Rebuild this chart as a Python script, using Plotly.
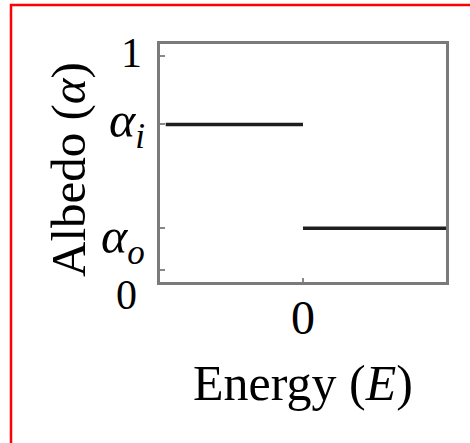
import plotly.graph_objects as go

# Data
seg_inner_x = [-0.96, 0.0]
seg_outer_x = [0.0, 1.0]
alpha_i = 0.68
alpha_o = 0.195
y_tick_vals = [1, alpha_i, alpha_o, 0]
y_tick_text = ["1", "<i>α</i><sub><i>i</i></sub>", "<i>α</i><sub><i>o</i></sub>", "0"]
y_tick_size = [42, 50, 50, 42]
y_tick_shift = [3, 0, -12, -25]
y_tick_right = [144, 147, 147, 139]
x_tick_vals = [0]
x_tick_text = ["0"]

FONT = "Liberation Serif"
W, H = 470, 443
L, R, T, B = 160, 24, 44, 161
pw, ph = W - L - R, H - T - B

def px_x(px):
    return (px - L) / pw

def px_y(py):
    return (H - B - py) / ph

fig = go.Figure()
fig.add_trace(go.Scatter(x=seg_inner_x, y=[alpha_i, alpha_i], mode="lines",
                         line=dict(color="#1e1e1e", width=3.5), showlegend=False))
fig.add_trace(go.Scatter(x=seg_outer_x, y=[alpha_o, alpha_o], mode="lines",
                         line=dict(color="#1e1e1e", width=3.5), showlegend=False))

fig.update_layout(
    width=W, height=H,
    margin=dict(l=L, r=R, t=T, b=B),
    paper_bgcolor="white", plot_bgcolor="white",
    font=dict(family=FONT, color="black"),
    xaxis=dict(range=[-1, 1], tickvals=x_tick_vals, ticktext=x_tick_text,
               ticks="inside", ticklen=4, tickcolor="#888", tickwidth=1.5,
               showline=True, mirror=True, linecolor="#7a7a7a", linewidth=2.5,
               showgrid=False, zeroline=False, tickfont=dict(size=48, family=FONT),
               ticklabelstandoff=-8, fixedrange=True),
    yaxis=dict(range=[-0.056, 1.056], tickvals=y_tick_vals, showticklabels=False,
               ticks="inside", ticklen=5, tickcolor="#888", tickwidth=1.5,
               showline=True, mirror=True, linecolor="#7a7a7a", linewidth=2.5,
               showgrid=False, zeroline=False, fixedrange=True),
)

for v, t, s, fs, xr in zip(y_tick_vals, y_tick_text, y_tick_shift, y_tick_size, y_tick_right):
    fig.add_annotation(x=px_x(xr), xref="paper", xanchor="right", y=v, yref="y",
                       yanchor="middle", yshift=s, text=t, showarrow=False,
                       font=dict(size=fs, family=FONT, color="black"))

fig.add_annotation(x=px_x(68), y=px_y(170), xref="paper", yref="paper",
                   text="Albedo (<i>α</i>)", textangle=-90, showarrow=False,
                   xanchor="center", yanchor="middle",
                   font=dict(size=49, family=FONT, color="black"))
fig.add_annotation(x=0.5, y=px_y(383), xref="paper", yref="paper",
                   text="Energy (<i>E</i>)", showarrow=False,
                   xanchor="center", yanchor="middle",
                   font=dict(size=50, family=FONT, color="black"))

# red frame
fig.add_shape(type="path", xref="paper", yref="paper",
              path=f"M {px_x(11)} {px_y(445)} L {px_x(11)} {px_y(5)} L {px_x(472)} {px_y(5)}",
              line=dict(color="red", width=2.5))

fig.write_html("out.html")
